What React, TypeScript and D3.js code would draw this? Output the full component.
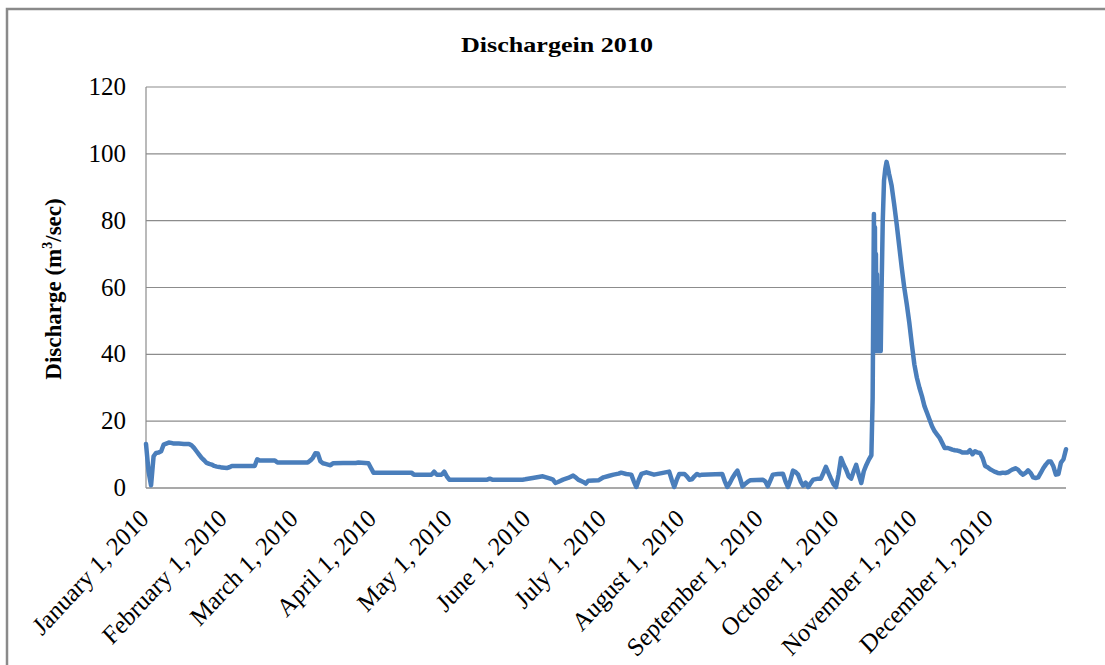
import React from "react";
import * as d3 from "d3";

const chartTitle = "Dischargein 2010";
const yTicks = [0, 20, 40, 60, 80, 100, 120];
const monthTickLabels = [
  "January 1, 2010", "February 1, 2010", "March 1, 2010", "April 1, 2010",
  "May 1, 2010", "June 1, 2010", "July 1, 2010", "August 1, 2010",
  "September 1, 2010", "October 1, 2010", "November 1, 2010", "December 1, 2010",
];
// [day of year offset from Jan 1, discharge m3/sec]
const discharge: [number, number][] = [
  [0,13.2],[1,5],[2,0.8],[3,9.5],[4,10.5],[5,10.6],[6,11],[7,13],[8,13.3],[9,13.6],[10,13.5],[11,13.3],[13,13.3],[15,13.2],[17,13.2],[18,12.8],[19,12],[20,11],[21,10],[22,9],[23,8.3],[24,7.5],[25,7.2],[26,7],[27,6.6],[28,6.4],[29,6.3],[30,6.1],[32,6],[33,6.2],[34,6.6],[38,6.6],[43,6.6],[44,8.6],[45,8.2],[51,8.2],[52,7.6],[58,7.6],[64,7.6],[65,8.2],[66,9],[67,10.4],[68,10.3],[69,8],[70,7.4],[71,7.2],[72,7],[73,6.8],[74,7.4],[78,7.5],[83,7.5],[84,7.6],[88,7.4],[89,6],[90,4.6],[98,4.6],[105,4.6],[106,4.0],[113,4.0],[114,4.9],[115,4.0],[117,4.0],[118,4.9],[119,3.5],[120,2.5],[128,2.5],[135,2.5],[136,2.8],[137,2.5],[149,2.5],[150,2.6],[153,3.0],[157,3.5],[160,2.8],[161,2.5],[162,1.5],[163,1.8],[165,2.5],[167,3.0],[169,3.7],[170,3.2],[171,2.5],[173,1.8],[174,1.3],[175,2.2],[179,2.3],[181,3.2],[183,3.6],[185,4.0],[187,4.3],[188,4.6],[190,4.2],[192,4.0],[193,2],[194,0.3],[195,2.5],[196,4.2],[198,4.7],[201,4.0],[207,4.9],[208,2.5],[209,0.3],[210,2.5],[211,4.2],[213,4.2],[214,3.5],[215,2.5],[216,2.6],[217,3.5],[218,4.2],[219,3.8],[220,4.0],[228,4.2],[229,2],[230,0.3],[231,1.5],[232,3],[233,4.2],[234,5.2],[235,3],[236,0.5],[237,1.2],[238,1.8],[239,2.3],[244,2.5],[245,2.0],[246,0.5],[247,2.2],[248,4.0],[250,4.2],[252,4.3],[253,2],[254,0.3],[255,2.5],[256,5.2],[257,4.8],[258,4.0],[259,2],[260,0.7],[261,1.6],[262,0.3],[263,1.5],[264,2.5],[266,2.8],[267,2.8],[268,4.5],[269,6.3],[270,4.5],[271,2.8],[272,1.2],[273,0.3],[274,4],[275,9.0],[276,7],[277,5.5],[278,3.5],[279,2.8],[280,5],[281,6.9],[282,4],[283,1.5],[284,5],[285,6.9],[286,8.5],[287,9.8],[287.5,27],[288,82],[288.2,41],[288.4,78],[288.6,41],[288.8,70],[289,41],[289.2,64],[289.4,41],[289.6,60],[289.8,41],[290,56],[290.2,41],[290.5,50],[290.7,41],[291,58],[291.5,80],[292,92],[292.5,95.5],[293,97.6],[293.5,96],[294,94],[295,90.5],[296,85],[297,79],[298,72.5],[299,66],[300,60],[301,55],[302,49.5],[303,43],[304,37],[305,33],[306,30],[307,27.5],[308,24.5],[309,22.5],[310,20.5],[311,18.5],[312,17],[313,16],[314,15],[315,13.5],[316,12],[317,12],[318,11.8],[319,11.5],[320,11.3],[321,11.2],[322,11],[323,10.6],[324,10.6],[325,10.6],[326,11.3],[327,10.1],[328,11.0],[329,10.6],[330,10.5],[331,9],[332,6.6],[333,6.2],[334,5.6],[335,5.2],[336,4.8],[337,4.5],[338,4.4],[339,4.6],[340,4.5],[341,4.7],[342,5.2],[343,5.6],[344,5.9],[345,5.5],[346,4.6],[347,4.0],[348,4.5],[349,5.3],[350,4.5],[351,3.2],[352,3.0],[353,3.2],[354,4.5],[355,5.9],[356,7.0],[357,7.9],[358,7.9],[359,6.5],[360,4.0],[361,4.2],[362,7.6],[363,8.6],[364,11.6],
];

const W = 1105, H = 665;
const plot = { left: 146, right: 1066, top: 87, bottom: 488 };
const start = new Date(2010, 0, 1);
const toDate = (d: number) => new Date(start.getTime() + d * 864e5);

export default function App() {
  const x = d3.scaleTime().domain([start, new Date(2010, 11, 31)]).range([plot.left, plot.right]);
  const y = d3.scaleLinear().domain([0, 120]).range([plot.bottom, plot.top]);
  const line = d3.line<[number, number]>()
    .x((p) => x(toDate(p[0])))
    .y((p) => y(p[1]));
  const months = d3.range(12).map((m) => new Date(2010, m, 1));
  const serif = "'Liberation Serif', 'Times New Roman', serif";
  return (
    <svg width={W} height={H} style={{ position: "absolute", left: 0, top: 0, background: "#fff" }} fontFamily={serif}>
      <rect x={7} y={9} width={W + 20} height={H + 20} fill="#fff" stroke="#8a8a8a" strokeWidth={2.5} />
      <text x={557} y={52} textAnchor="middle" fontWeight="bold" fontSize={22} textLength={192} lengthAdjust="spacingAndGlyphs">{chartTitle}</text>
      {yTicks.map((t) => (
        <g key={t}>
          {t > 0 && <line x1={plot.left} x2={plot.right} y1={y(t)} y2={y(t)} stroke="#8c8c8c" strokeWidth={1.2} />}
          <text x={126} y={y(t) + 8} textAnchor="end" fontSize={25}>{t}</text>
        </g>
      ))}
      <line x1={plot.left} x2={plot.left} y1={plot.top} y2={plot.bottom} stroke="#8c8c8c" strokeWidth={1.2} />
      <line x1={plot.left} x2={plot.right} y1={plot.bottom} y2={plot.bottom} stroke="#8c8c8c" strokeWidth={1.5} />
      <text transform={`translate(61, 289) rotate(-90)`} textAnchor="middle" fontWeight="bold" fontSize={23}>
        Discharge (m<tspan dy={-9} fontSize={14}>3</tspan><tspan dy={9}>/sec)</tspan>
      </text>
      {months.map((m, i) => (
        <text key={i} transform={`translate(${x(m) + 4}, ${plot.bottom + 32}) scale(1,1.08) rotate(-45)`} textAnchor="end" fontSize={24}>
          {monthTickLabels[i]}
        </text>
      ))}
      <path d={line(discharge) || ""} fill="none" stroke="#4a7ebb" strokeWidth={4.5} strokeLinejoin="round" strokeLinecap="round" />
    </svg>
  );
}
